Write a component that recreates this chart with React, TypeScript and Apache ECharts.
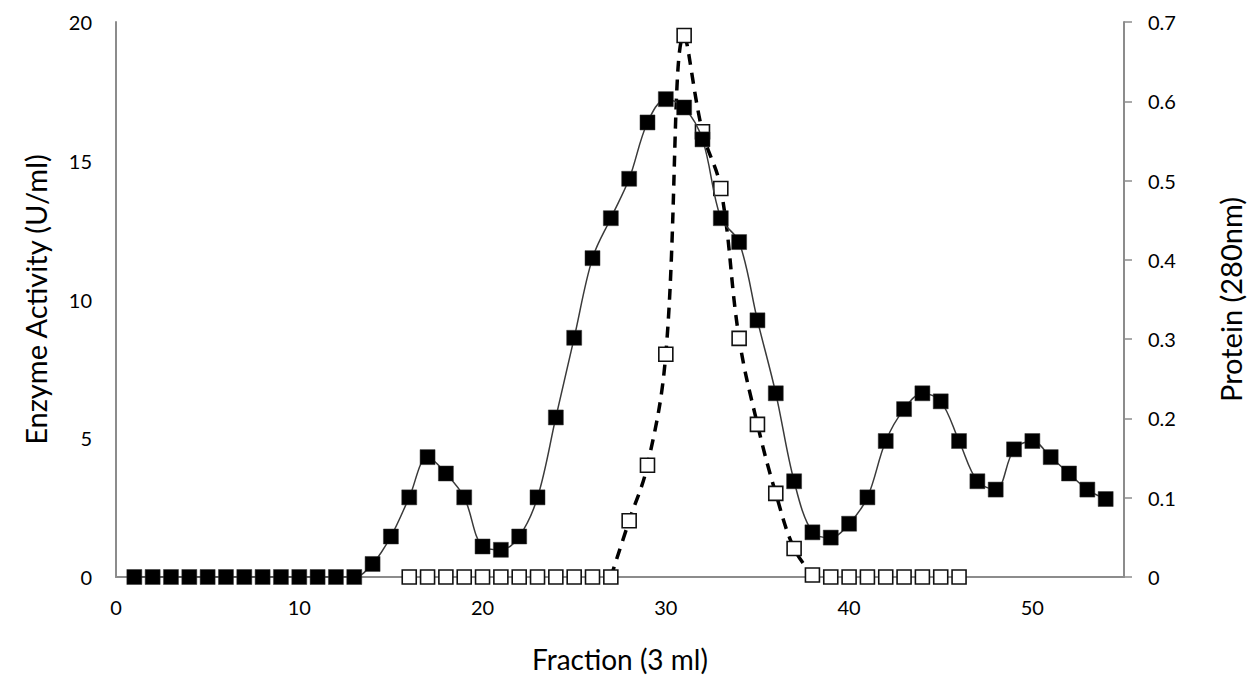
import React, { useEffect, useRef } from "react";
import * as echarts from "echarts";

// Fraction numbers (x) for the enzyme activity series: fractions 1..54
const enzymeFirstFraction = 1;
// Enzyme activity (U/ml), left axis
const enzymeActivity = [
  0, 0, 0, 0, 0, 0, 0, 0, 0, 0, 0, 0, 0,
  0.47, 1.46, 2.87, 4.32, 3.73, 2.87, 1.1, 0.98, 1.46, 2.87, 5.75, 8.62,
  11.49, 12.93, 14.35, 16.38, 17.22, 16.92, 15.77, 12.93, 12.07, 9.25, 6.62,
  3.45, 1.61, 1.42, 1.92, 2.87, 4.9, 6.05, 6.62, 6.33, 4.9, 3.45, 3.15, 4.6,
  4.9, 4.32, 3.73, 3.15, 2.81,
];

// Protein (280nm), right axis: fractions 16..46
const proteinFirstFraction = 16;
const protein280 = [
  0, 0, 0, 0, 0, 0, 0, 0, 0, 0, 0, 0,
  0.071, 0.141, 0.281, 0.683, 0.5615, 0.49, 0.301, 0.1925, 0.1055, 0.036, 0.0025,
  0, 0, 0, 0, 0, 0, 0, 0,
];
// Range of fractions covered by the dashed protein curve
const proteinCurveFrom = 27;
const proteinCurveTo = 38;

const xTicks = { min: 0, max: 55, interval: 10 };
const leftTicks = { min: 0, max: 20, interval: 5 };
const rightTicks = { min: 0, max: 0.7, interval: 0.1 };

const xTitle = "Fraction (3 ml)";
const leftTitle = "Enzyme Activity (U/ml)";
const rightTitle = "Protein (280nm)";

const FONT = "Lato, 'Liberation Sans', sans-serif";
const AXIS_COLOR = "#8c8c8c";

export default function App() {
  const ref = useRef<HTMLDivElement>(null);

  useEffect(() => {
    if (!ref.current) return;
    const chart = echarts.init(ref.current, undefined, { renderer: "svg" });

    const enzymeData = enzymeActivity.map((v, i) => [enzymeFirstFraction + i, v]);
    const proteinData = protein280.map((v, i) => [proteinFirstFraction + i, v]);
    const proteinCurve = proteinData.filter(
      (d) => d[0] >= proteinCurveFrom && d[0] <= proteinCurveTo
    );

    const tickLabel = { fontFamily: FONT, fontSize: 20, color: "#000" };
    const titleStyle = { fontFamily: FONT, fontSize: 29, color: "#000" };

    chart.setOption({
      animation: false,
      backgroundColor: "#fff",
      grid: {
        left: 116,
        right: 131,
        top: 22,
        bottom: 103,
        containLabel: false,
        outerBoundsMode: "none",
      },
      xAxis: {
        type: "value",
        ...xTicks,
        axisLine: { show: true, onZero: false, lineStyle: { color: AXIS_COLOR, width: 2 } },
        axisTick: { show: false },
        splitLine: { show: false },
        axisLabel: { ...tickLabel, margin: 20, showMaxLabel: false },
        name: xTitle,
        nameLocation: "middle",
        nameGap: 68,
        nameTextStyle: { ...titleStyle, fontSize: 28 },
      },
      yAxis: [
        {
          type: "value",
          position: "left",
          ...leftTicks,
          axisLine: { show: true, lineStyle: { color: AXIS_COLOR, width: 2 } },
          axisTick: { show: false },
          splitLine: { show: false },
          axisLabel: { ...tickLabel, margin: 24 },
          name: leftTitle,
          nameLocation: "middle",
          nameRotate: 90,
          nameGap: 66,
          nameTextStyle: titleStyle,
        },
        {
          type: "value",
          position: "right",
          ...rightTicks,
          axisLine: { show: true, lineStyle: { color: AXIS_COLOR, width: 2 } },
          axisTick: { show: true, inside: false, length: 8, lineStyle: { color: AXIS_COLOR, width: 1.5 } },
          splitLine: { show: false },
          axisLabel: {
            ...tickLabel,
            margin: 24,
            formatter: (v: number) => (v === 0 ? "0" : v.toFixed(1)),
          },
          name: rightTitle,
          nameLocation: "middle",
          nameRotate: 90,
          nameGap: 92,
          nameTextStyle: titleStyle,
        },
      ],
      series: [
        {
          name: "Protein curve",
          type: "line",
          yAxisIndex: 1,
          data: proteinCurve,
          smooth: 0.4,
          showSymbol: false,
          symbol: "none",
          lineStyle: { color: "#000", width: 3.5, type: [11, 8] },
          z: 1,
        },
        {
          name: "Protein",
          type: "scatter",
          yAxisIndex: 1,
          data: proteinData,
          symbol: "rect",
          symbolSize: 14,
          itemStyle: { color: "#fff", borderColor: "#111", borderWidth: 1.6, opacity: 1 },
          z: 2,
        },
        {
          name: "Enzyme activity",
          type: "line",
          yAxisIndex: 0,
          data: enzymeData,
          smooth: 0.35,
          symbol: "rect",
          symbolSize: 15,
          showAllSymbol: true,
          lineStyle: { color: "#3a3a3a", width: 1.5 },
          itemStyle: { color: "#000", borderColor: "#333", borderWidth: 0.5 },
          z: 3,
        },
      ],
    });

    return () => chart.dispose();
  }, []);

  return (
    <div
      ref={ref}
      style={{ position: "fixed", left: 0, top: 0, width: 1255, height: 680, background: "#fff" }}
    />
  );
}
